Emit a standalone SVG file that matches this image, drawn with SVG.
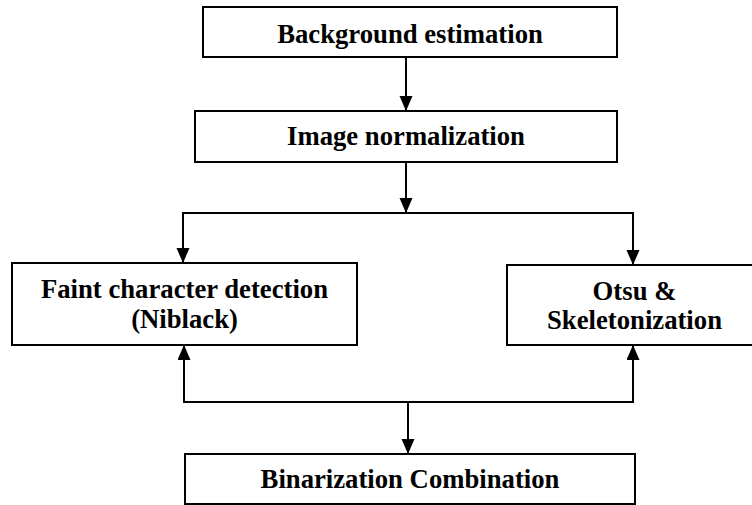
<svg xmlns="http://www.w3.org/2000/svg" width="752" height="505" viewBox="0 0 752 505">
<defs>
<style>
.box{fill:#fff;stroke:#000;stroke-width:2}
.t{font-family:"Liberation Serif","Times New Roman",serif;font-weight:bold;font-size:26.7px;fill:#000;text-anchor:middle}
.c{fill:none;stroke:#000;stroke-width:2}
</style>
<marker id="ah" markerUnits="userSpaceOnUse" markerWidth="16" markerHeight="14" viewBox="0 0 16 14" refX="15" refY="6.5" orient="auto">
<path d="M0,0 L15,6.5 L0,13 Z" fill="#000"/>
</marker>
</defs>
<rect width="752" height="505" fill="#fff"/>
<g id="connectors">
<line class="c" x1="406" y1="57" x2="406" y2="111" marker-end="url(#ah)"/>
<line class="c" x1="406" y1="162" x2="406" y2="213" marker-end="url(#ah)"/>
<polyline class="c" points="183,213 633,213"/>
<line class="c" x1="183" y1="212" x2="183" y2="263" marker-end="url(#ah)"/>
<line class="c" x1="633" y1="212" x2="633" y2="265" marker-end="url(#ah)"/>
<polyline class="c" points="184,402 633,402"/>
<line class="c" x1="184" y1="403" x2="184" y2="345" marker-end="url(#ah)"/>
<line class="c" x1="633" y1="403" x2="633" y2="345" marker-end="url(#ah)"/>
<line class="c" x1="408" y1="402" x2="408" y2="454" marker-end="url(#ah)"/>
</g>
<g id="bg-est">
<rect class="box" x="203" y="7" width="414" height="50"/>
<text class="t" x="410" y="43">Background estimation</text>
</g>
<g id="img-norm">
<rect class="box" x="195" y="111" width="422" height="51"/>
<text class="t" x="406" y="145">Image normalization</text>
</g>
<g id="faint">
<rect class="box" x="12" y="263" width="345" height="82"/>
<text class="t" x="184.5" y="298">Faint character detection</text>
<text class="t" x="184.5" y="328">(Niblack)</text>
</g>
<g id="otsu">
<rect class="box" x="507" y="265" width="255" height="80"/>
<text class="t" x="634.5" y="300">Otsu &amp;</text>
<text class="t" x="634.5" y="329">Skeletonization</text>
</g>
<g id="combo">
<rect class="box" x="185" y="454" width="450" height="50"/>
<text class="t" x="410" y="488">Binarization Combination</text>
</g>
</svg>
